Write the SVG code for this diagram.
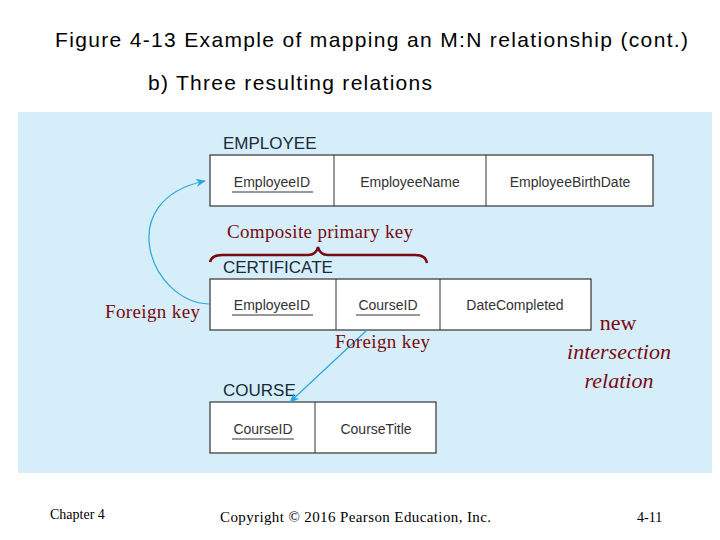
<svg xmlns="http://www.w3.org/2000/svg" width="720" height="540" viewBox="0 0 720 540">
<style>
.t{font-family:"Liberation Sans",Arial,sans-serif;fill:#000}
.h{font-family:"Liberation Sans",Arial,sans-serif;font-size:17px;fill:#1a2a3a}
.a{font-family:"Liberation Sans",Arial,sans-serif;font-size:14px;fill:#333;text-anchor:middle}
.r{font-family:"Liberation Serif","Times New Roman",serif;fill:#7a0a10}
.b{fill:#fff;stroke:#333;stroke-width:1.2}
.u{stroke:#333;stroke-width:1}
.c{fill:none;stroke:#2aa6dc;stroke-width:1.2}
</style>
<defs><marker id="ar" markerWidth="10" markerHeight="8" refX="9" refY="4" orient="auto" markerUnits="userSpaceOnUse"><path d="M0,0 L10,4 L0,8 L3,4z" fill="#2aa6dc"/></marker></defs>
<rect width="720" height="540" fill="#fff"/>
<text class="t" x="55" y="47" font-size="21" textLength="633" lengthAdjust="spacing">Figure 4-13 Example of mapping an M:N relationship (cont.)</text>
<text class="t" x="148" y="90" font-size="21" textLength="284" lengthAdjust="spacing">b) Three resulting relations</text>
<rect x="18" y="112" width="694" height="361" fill="#d5eef9"/>
<g id="employee">
<text class="h" x="223" y="149">EMPLOYEE</text>
<rect class="b" x="210" y="155" width="443" height="51"/>
<line class="u" x1="334" y1="155" x2="334" y2="206"/><line class="u" x1="486" y1="155" x2="486" y2="206"/>
<text class="a" x="272" y="187">EmployeeID</text><line class="u" x1="232" y1="192" x2="313" y2="192"/>
<text class="a" x="410" y="187">EmployeeName</text>
<text class="a" x="570" y="187">EmployeeBirthDate</text>
</g>
<g id="certificate">
<text class="h" x="223" y="273">CERTIFICATE</text>
<rect class="b" x="210" y="279" width="381" height="51"/>
<line class="u" x1="336" y1="279" x2="336" y2="330"/><line class="u" x1="440" y1="279" x2="440" y2="330"/>
<text class="a" x="272" y="310">EmployeeID</text><line class="u" x1="232" y1="315" x2="313" y2="315"/>
<text class="a" x="388" y="310">CourseID</text><line class="u" x1="356" y1="315" x2="420" y2="315"/>
<text class="a" x="515" y="310">DateCompleted</text>
</g>
<g id="course">
<text class="h" x="223" y="396">COURSE</text>
<rect class="b" x="210" y="402" width="226" height="51"/>
<line class="u" x1="315" y1="402" x2="315" y2="453"/>
<text class="a" x="263" y="434">CourseID</text><line class="u" x1="232" y1="439" x2="294" y2="439"/>
<text class="a" x="376" y="434">CourseTitle</text>
</g>
<g id="connectors">
<path class="c" d="M209,304 C150,302 112,200 205,181" marker-end="url(#ar)"/>
<path class="c" d="M367,330 L290,402" marker-end="url(#ar)"/>
<path d="M210,262 Q212,254 225,255 L308,255 Q316,255 318,247 Q320,255 328,255 L415,255 Q426,255 427,263" fill="none" stroke="#7a0a10" stroke-width="2.5"/>
</g>
<g id="labels">
<text class="r" x="227" y="238" font-size="19" textLength="186" lengthAdjust="spacing">Composite primary key</text>
<text class="r" x="105" y="318" font-size="19" textLength="95" lengthAdjust="spacing">Foreign key</text>
<text class="r" x="335" y="348" font-size="19" textLength="95" lengthAdjust="spacing">Foreign key</text>
<text class="r" x="618" y="330" font-size="22" text-anchor="middle">new</text>
<text class="r" x="619" y="359" font-size="22" font-style="italic" text-anchor="middle">intersection</text>
<text class="r" x="619" y="388" font-size="22" font-style="italic" text-anchor="middle">relation</text>
</g>
<text x="50" y="519" font-family="Liberation Serif,serif" font-size="14">Chapter 4</text>
<text x="220" y="522" font-family="Liberation Serif,serif" font-size="15" textLength="271" lengthAdjust="spacing">Copyright © 2016 Pearson Education, Inc.</text>
<text x="637" y="522" font-family="Liberation Serif,serif" font-size="14">4-11</text>
</svg>
